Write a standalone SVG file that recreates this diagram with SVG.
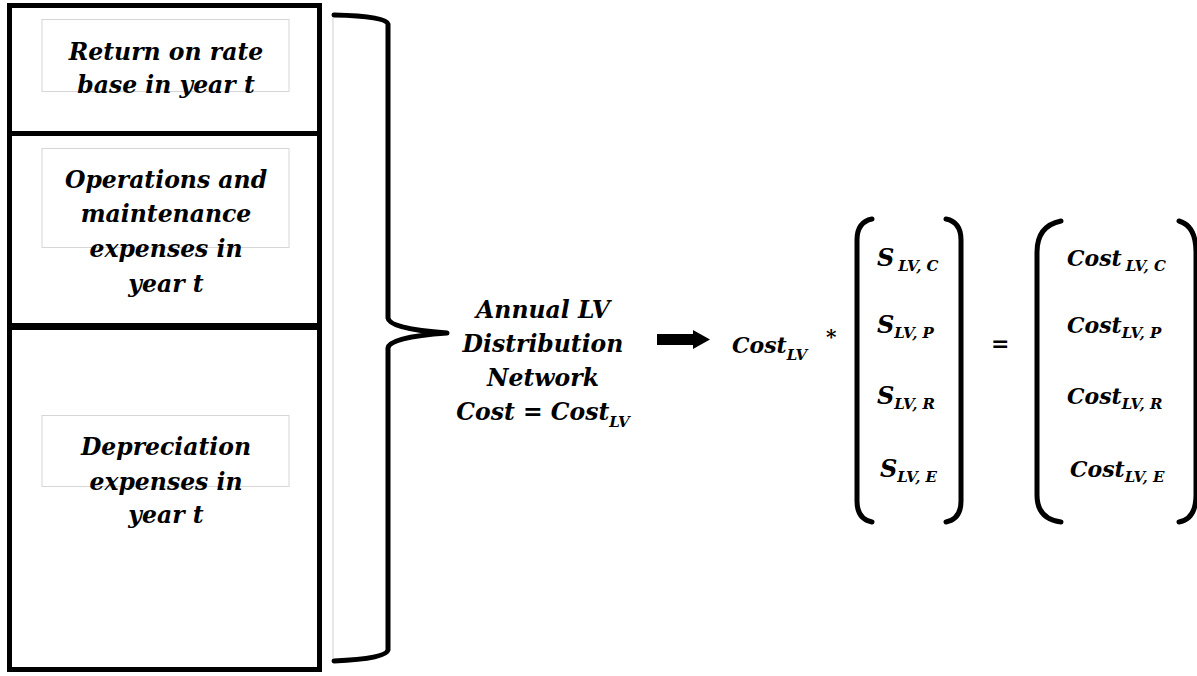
<svg xmlns="http://www.w3.org/2000/svg" width="1197" height="676" viewBox="0 0 1197 676">
  <style>
    .t { font-family: "DejaVu Serif", "Liberation Serif", serif; font-weight: bold; font-style: italic; fill: #000; }
    .c { text-anchor: middle; }
    .lbl { font-size: 23.5px; }
    .box { fill: none; stroke: #000; stroke-width: 5; }
    .frame { fill: #fff; stroke: #d6d6d6; stroke-width: 1; }
    .ink { fill: none; stroke: #000; stroke-width: 5; stroke-linecap: round; stroke-linejoin: round; }
    .sub { font-size: 15px; }
  </style>
  <rect width="1197" height="676" fill="#fff"/>

  <!-- stacked cost components -->
  <g id="return-on-rate-base">
    <rect class="box" x="9.5" y="5.5" width="310" height="128"/>
    <rect class="frame" x="42" y="19.5" width="247" height="72"/>
    <text class="t c lbl" x="166" y="60">Return on rate</text>
    <text class="t c lbl" x="166" y="93">base in year t</text>
  </g>
  <g id="operations-maintenance">
    <rect class="box" x="9.5" y="133.5" width="310" height="192"/>
    <rect class="frame" x="42" y="148.5" width="247" height="99"/>
    <text class="t c lbl" x="166" y="188">Operations and</text>
    <text class="t c lbl" x="166" y="222">maintenance</text>
    <text class="t c lbl" x="166" y="257">expenses in</text>
    <text class="t c lbl" x="166" y="292">year t</text>
  </g>
  <g id="depreciation">
    <rect class="box" x="9.5" y="327.5" width="310" height="342"/>
    <rect class="frame" x="42" y="415.5" width="247" height="71"/>
    <text class="t c lbl" x="166" y="455">Depreciation</text>
    <text class="t c lbl" x="166" y="490">expenses in</text>
    <text class="t c lbl" x="166" y="523">year t</text>
  </g>

  <!-- connectors: brace and arrow -->
  <g id="connectors">
    <line x1="333" y1="15" x2="333" y2="660" stroke="#cfcfcf" stroke-width="1"/>
    <path class="ink" d="M334,15 Q386,16 388,24 L388,318 Q389,329 447,333 Q389,337 388,348 L388,650 Q386,659 334,661"/>
    <path d="M657,334 L693,334 L693,330 L710,339.5 L693,349 L693,345 L657,345 Z" fill="#000"/>
  </g>

  <g id="annual-cost">
    <text class="t c lbl" x="543" y="318">Annual LV</text>
    <text class="t c lbl" x="543" y="352">Distribution</text>
    <text class="t c lbl" x="543" y="386">Network</text>
    <text class="t c lbl" x="543" y="420">Cost = Cost<tspan class="sub" dy="7">LV</tspan></text>
  </g>

  <g id="cost-lv">
    <text class="t" x="732" y="353" font-size="22">Cost<tspan class="sub" dy="7">LV</tspan></text>
    <text class="t" x="826" y="344" font-size="20" font-style="normal" font-weight="normal">*</text>
  </g>

  <!-- share vector -->
  <g id="share-vector">
    <path class="ink" d="M872,219 Q857,222 857,240 L857,501 Q857,519 872,522"/>
    <path class="ink" d="M946,219 Q961,222 961,240 L961,501 Q961,519 946,522"/>
    <text class="t" x="877" y="266" font-size="24">S<tspan class="sub" dx="4" dy="5">LV, C</tspan></text>
    <text class="t" x="877" y="333" font-size="24">S<tspan class="sub" dy="5">LV, P</tspan></text>
    <text class="t" x="877" y="404" font-size="24">S<tspan class="sub" dy="5">LV, R</tspan></text>
    <text class="t" x="880" y="477" font-size="24">S<tspan class="sub" dy="5">LV, E</tspan></text>
  </g>

  <text class="t" x="991" y="351" font-size="22" font-style="normal">=</text>

  <!-- cost vector -->
  <g id="cost-vector">
    <path class="ink" d="M1061,221 Q1037,226 1037,252 L1037,495 Q1037,519 1061,522"/>
    <path class="ink" d="M1179,221 Q1196,226 1196,252 L1196,495 Q1196,519 1179,522"/>
    <text class="t" x="1067" y="266" font-size="22">Cost<tspan class="sub" dx="4" dy="5">LV, C</tspan></text>
    <text class="t" x="1067" y="333" font-size="22">Cost<tspan class="sub" dy="5">LV, P</tspan></text>
    <text class="t" x="1067" y="404" font-size="22">Cost<tspan class="sub" dy="5">LV, R</tspan></text>
    <text class="t" x="1070" y="477" font-size="22">Cost<tspan class="sub" dy="5">LV, E</tspan></text>
  </g>
</svg>
